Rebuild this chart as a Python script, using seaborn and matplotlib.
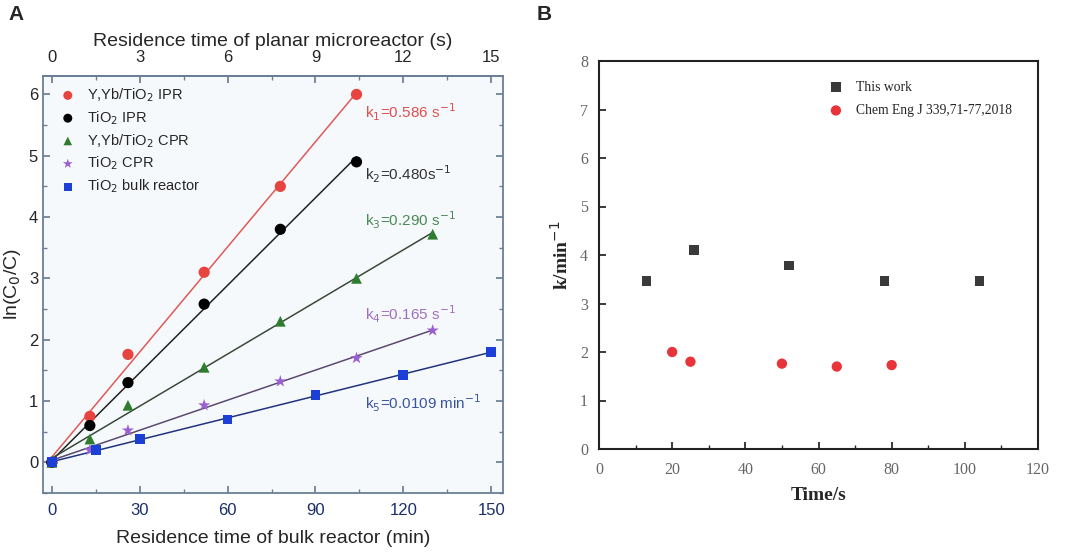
import numpy as np
import pandas as pd
import matplotlib
matplotlib.use("Agg")
import matplotlib.pyplot as plt
from matplotlib.ticker import MultipleLocator
import seaborn as sns

# ---- Panel A data: residence time of bulk reactor (min) vs ln(C0/C)
t_ipr = [0, 13, 26, 52, 78, 104]
t_cpr = [0, 13, 26, 52, 78, 104, 130]
t_bulk = [0, 15, 30, 60, 90, 120, 150]

yyb_ipr = [0.0, 0.75, 1.76, 3.10, 4.50, 6.00]
tio2_ipr = [0.0, 0.60, 1.30, 2.58, 3.80, 4.90]
yyb_cpr = [0.0, 0.38, 0.93, 1.55, 2.30, 3.00, 3.72]
tio2_cpr = [0.0, 0.20, 0.52, 0.93, 1.32, 1.70, 2.15]
tio2_bulk = [0.0, 0.20, 0.38, 0.70, 1.10, 1.43, 1.80]

series_names = ["Y,Yb/TiO$_2$ IPR", "TiO$_2$ IPR", "Y,Yb/TiO$_2$ CPR",
                "TiO$_2$ CPR", "TiO$_2$ bulk reactor"]
rate_labels = ["k$_1$=0.586 s$^{-1}$", "k$_2$=0.480s$^{-1}$", "k$_3$=0.290 s$^{-1}$",
               "k$_4$=0.165 s$^{-1}$", "k$_5$=0.0109 min$^{-1}$"]
rate_label_y = [5.7, 4.7, 3.95, 2.42, 0.97]

# ---- Panel B data: time (s) vs k (min^-1)
b_time_work = [13, 26, 52, 78, 104]
b_k_work = [3.47, 4.10, 3.78, 3.47, 3.47]
b_time_ref = [20, 25, 50, 65, 80]
b_k_ref = [2.00, 1.80, 1.76, 1.70, 1.73]

sns.set_theme(style="ticks")
plt.rcParams["font.family"] = ["Liberation Sans", "DejaVu Sans"]

fig = plt.figure(figsize=(10.65, 5.52), dpi=100)
axA = fig.add_axes([43 / 1065, 1 - 493 / 552, 460 / 1065, 417 / 552])
axB = fig.add_axes([599 / 1065, 1 - 449 / 552, 439 / 1065, 388 / 552])

# ---------------- Panel A ----------------
dfs = [
    pd.DataFrame({"t": t_ipr, "y": yyb_ipr}),
    pd.DataFrame({"t": t_ipr, "y": tio2_ipr}),
    pd.DataFrame({"t": t_cpr, "y": yyb_cpr}),
    pd.DataFrame({"t": t_cpr, "y": tio2_cpr}),
    pd.DataFrame({"t": t_bulk, "y": tio2_bulk}),
]
mark_colors = ["#e8443f", "#000000", "#2e7d2e", "#9a5fd0", "#1c3fd6"]
line_colors = ["#e05a55", "#222222", "#3a4a3a", "#5a4a70", "#22337a"]
text_colors = ["#e05050", "#333333", "#4a8a55", "#a070c0", "#3a55a0"]
markers = ["o", "o", "^", "*", "s"]
sizes = [65, 65, 60, 85, 50]

axA.set_facecolor("#f6f9fc")
for df, name, mc, lc, mk, sz in zip(dfs, series_names, mark_colors, line_colors, markers, sizes):
    slope, icpt = np.polyfit(df["t"], df["y"], 1)
    xs = np.array([df["t"].iloc[0], df["t"].iloc[-1]])
    axA.plot(xs, slope * xs + icpt, color=lc, lw=1.1, zorder=2)
    sns.scatterplot(data=df, x="t", y="y", ax=axA, color=mc, marker=mk, s=sz,
                    edgecolor="none", label=name, zorder=3)

for lab, yy, tc in zip(rate_labels, rate_label_y, text_colors):
    axA.text(107, yy, lab, color=tc, fontsize=11, va="center")

axA.set_xlim(-3, 154)
axA.set_ylim(-0.5, 6.3)
axA.xaxis.set_major_locator(MultipleLocator(30))
axA.xaxis.set_minor_locator(MultipleLocator(15))
axA.yaxis.set_major_locator(MultipleLocator(1))
axA.yaxis.set_minor_locator(MultipleLocator(0.5))
axA.tick_params(which="both", direction="in", top=False, right=True, labelsize=12,
                color="#6a7f95")
axA.tick_params(which="major", length=5)
axA.tick_params(which="minor", length=3)
axA.tick_params(axis="x", labelcolor="#1a2f6a", pad=7)
for sp in axA.spines.values():
    sp.set_color("#6a7f95")
    sp.set_linewidth(1.3)
axA.set_xlabel("Residence time of bulk reactor (min)", fontsize=14, labelpad=9)
axA.set_ylabel("ln(C$_0$/C)", fontsize=14)

top = axA.secondary_xaxis("top", functions=(lambda x: x / 10, lambda x: x * 10))
top.xaxis.set_major_locator(MultipleLocator(3))
top.xaxis.set_minor_locator(MultipleLocator(1.5))
top.tick_params(which="both", direction="in", labelsize=12, color="#6a7f95", pad=8)
top.tick_params(which="major", length=5)
top.tick_params(which="minor", length=3)
top.spines["top"].set_color("#6a7f95")
top.set_xlabel("Residence time of planar microreactor (s)", fontsize=14, labelpad=3)

legA = axA.legend(loc="upper left", frameon=False, fontsize=10.5, handletextpad=0.3,
                  borderaxespad=0.3, labelspacing=0.35, markerscale=0.8)

# ---------------- Panel B ----------------
serif = ["Liberation Serif", "DejaVu Serif"]
dfw = pd.DataFrame({"time": b_time_work, "k": b_k_work})
dfr = pd.DataFrame({"time": b_time_ref, "k": b_k_ref})
sns.scatterplot(data=dfw, x="time", y="k", ax=axB, marker="s", color="#3a3a3a", s=48,
                edgecolor="none", label="This work")
sns.scatterplot(data=dfr, x="time", y="k", ax=axB, marker="o", color="#e8333a", s=55,
                edgecolor="none", label="Chem Eng J 339,71-77,2018")
axB.set_xlim(0, 120)
axB.set_ylim(0, 8)
axB.xaxis.set_major_locator(MultipleLocator(20))
axB.xaxis.set_minor_locator(MultipleLocator(10))
axB.yaxis.set_major_locator(MultipleLocator(1))
axB.tick_params(which="both", direction="in", labelsize=11.5, color="#222222",
                labelcolor="#666666")
axB.tick_params(which="major", length=5)
axB.tick_params(which="minor", length=3)
axB.tick_params(axis="x", pad=9)
axB.tick_params(axis="y", pad=8)
for lbl in axB.get_xticklabels() + axB.get_yticklabels():
    lbl.set_family(serif)
for sp in axB.spines.values():
    sp.set_color("#222222")
    sp.set_linewidth(1.5)
axB.set_xlabel("Time/s", fontsize=14, fontweight="bold", family=serif, labelpad=7)
axB.set_ylabel("k/min$^{-1}$", fontsize=14, fontweight="bold", family=serif, labelpad=6)
legB = axB.legend(loc="upper left", frameon=False, prop={"family": serif, "size": 9.8},
                  bbox_to_anchor=(0.49, 0.97), handletextpad=0.5, labelspacing=0.75,
                  borderaxespad=0.2)

fig.text(8 / 1065, 1 - 14 / 552, "A", fontsize=15, fontweight="bold", va="center")
fig.text(537 / 1065, 1 - 14 / 552, "B", fontsize=15, fontweight="bold", va="center")

fig.savefig("out.png", dpi=100)
